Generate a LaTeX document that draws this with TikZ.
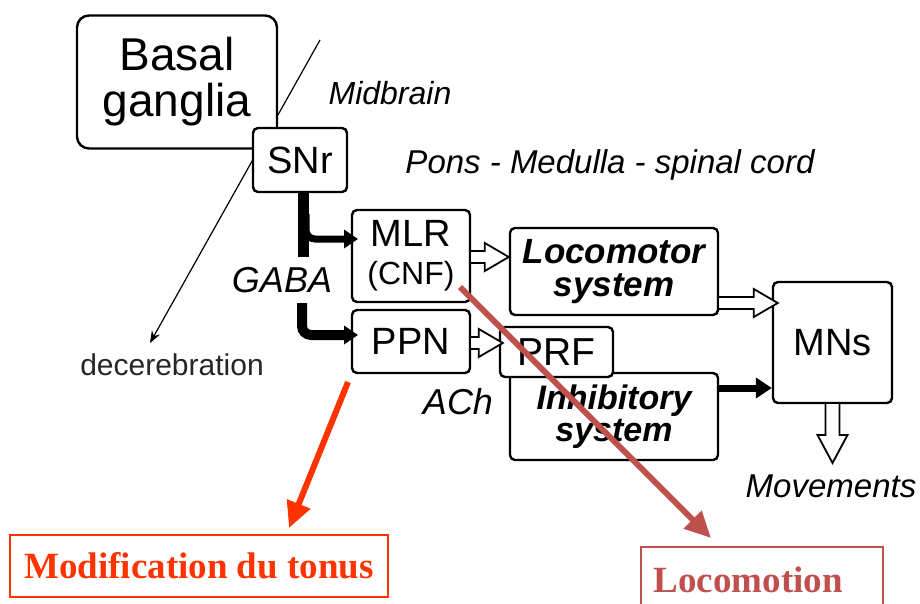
\documentclass[tikz,border=0pt]{standalone}
\usepackage{fontspec}
\setmainfont{Liberation Sans}
\newfontfamily\redserif{Liberation Serif}
\usetikzlibrary{arrows.meta,calc}
\definecolor{tonusred}{HTML}{FF3300}
\definecolor{locored}{HTML}{C0504D}
\tikzset{
  box/.style={draw=black, line width=2.4pt, rounded corners=5pt, fill=white, inner sep=0pt, align=center},
  lbl/.style={inner sep=0pt, font=\itshape\fontsize{33}{33}\selectfont},
  thinarrow/.style={line width=1.2pt, -{Stealth[length=12pt,width=9pt]}},
  gaba/.style={line width=11pt, rounded corners=9pt},
  gabatip/.style={line width=7pt, rounded corners=9pt, -{Triangle[length=14pt,width=18pt]}},
  hollow/.style={draw=black, line width=1.8pt, fill=white, line join=miter},
  redlbl/.style={line width=1.6pt, font=\redserif\bfseries\fontsize{37}{37}\selectfont, inner ysep=0pt},
  redarrow/.style={line width=6pt, -{Triangle[length=26pt,width=24pt]}}
}
\newcommand{\hollowH}[2]{%
  \draw[hollow] let \p1=(#1), \p2=(#2) in
    (\x1,\y1+6pt) -- (\x2-24pt,\y1+6pt) -- (\x2-24pt,\y1+14pt) -- (\x2,\y1)
    -- (\x2-24pt,\y1-14pt) -- (\x2-24pt,\y1-6pt) -- (\x1,\y1-6pt);}
\newcommand{\hollowV}[2]{%
  \draw[hollow] let \p1=(#1), \p2=(#2) in
    (\x1-7pt,\y1) -- (\x1-7pt,\y2+28pt) -- (\x1-15pt,\y2+28pt) -- (\x1,\y2)
    -- (\x1+15pt,\y2+28pt) -- (\x1+7pt,\y2+28pt) -- (\x1+7pt,\y1);}
\begin{document}
\begin{tikzpicture}[x=1pt,y=-1pt]
\useasboundingbox (0,0) rectangle (920,604);

% decerebration line (behind boxes)
\coordinate (dtop) at (320,40);
\coordinate (dtip) at (150,343);
\draw[thinarrow] (dtop) -- (dtip);

% boxes
\node[box, rounded corners=12pt, minimum width=200, minimum height=133,
      font=\fontsize{46}{46}\selectfont] (bg) at (177,82) {Basal\\ganglia};
\node[box, minimum width=94, minimum height=64, font=\fontsize{38}{38}\selectfont] (snr) at (300,160) {SNr};
\node[box, minimum width=118, minimum height=92, font=\fontsize{38}{38}\selectfont] (mlr) at (411,256)
  {MLR\\\fontsize{32}{38}\selectfont (CNF)};
\node[box, minimum width=118, minimum height=63, font=\fontsize{38}{38}\selectfont] (ppn) at (411,341.5) {PPN};
\node[box, minimum width=208, minimum height=87, font=\bfseries\itshape\fontsize{35}{33}\selectfont] (loco) at (614,271.5) {Locomotor\\system};
\node[box, minimum width=208, minimum height=87, font=\bfseries\itshape\fontsize{34}{32}\selectfont] (inhib) at (614,416.5) {Inhibitory\\system};
\node[box, minimum width=113, minimum height=50, font=\fontsize{39}{39}\selectfont] (prf) at (556.5,352) {PRF};
\node[box, minimum width=119, minimum height=121, font=\fontsize{38}{38}\selectfont] (mns) at (832.5,342.5) {MNs};

% labels
\node[lbl, font=\itshape\fontsize{32}{32}\selectfont] (midbrain) at (390,93) {Midbrain};
\node[lbl] (pons) at (610,165) {Pons - Medulla - spinal cord};
\node[lbl, font=\itshape\fontsize{36}{36}\selectfont] (gabal) at (282,280) {GABA};
\node[lbl, font=\itshape\fontsize{36}{36}\selectfont] (ach) at (458,402) {ACh};
\node[inner sep=0pt, font=\fontsize{30}{30}\selectfont, text=black!85] (decer) at (172,365) {decerebration};
\node[lbl] (mov) at (831,486) {Movements};

% GABA projections
\coordinate (gtop) at (303,192);
\coordinate (gmid) at (303,257);
\coordinate (mlrin) at (358,239);
\coordinate (gbot) at (302,303);
\coordinate (ppnin) at (358,335);
\draw[gaba] (gtop) -- (gmid);
\draw[gabatip] (306,214) |- (mlrin);
\draw[gabatip, line width=10pt] (gbot) |- (ppnin);

% hollow arrows
\hollowH{mlr.east |- 0,257}{loco.west |- 0,257}
\hollowH{loco.east |- 0,303}{[xshift=6pt]mns.west |- 0,303}
\hollowH{ppn.east |- 0,343}{[xshift=4pt]prf.west |- 0,343}
\coordinate (movtip) at (833,463);
\hollowV{mns.south}{movtip}

% inhibitory filled arrow
\coordinate (inhout) at (718,388);
\draw[line width=7pt, -{Triangle[length=16pt,width=20pt]}] (inhout) -- (mns.west |- inhout);

% red outcome boxes
\node[redlbl, draw=tonusred, text=tonusred, minimum width=378, minimum height=62] (tonus) at (199,566) {Modification du tonus};
\node[redlbl, draw=locored, text=locored, anchor=north west, inner xsep=13pt,
      text width=216pt, align=left, text height=26pt, text depth=50pt, inner ysep=20pt] (locomotion) at (640,546) {Locomotion};

% red arrows
\coordinate (t0) at (348,382);
\coordinate (t1) at (289,528);
\draw[redarrow, tonusred] (t0) -- (t1);
\coordinate (l0) at (460,287);
\coordinate (l1) at (711,538);
\draw[redarrow, locored] (l0) -- (l1);
\end{tikzpicture}
\end{document}
